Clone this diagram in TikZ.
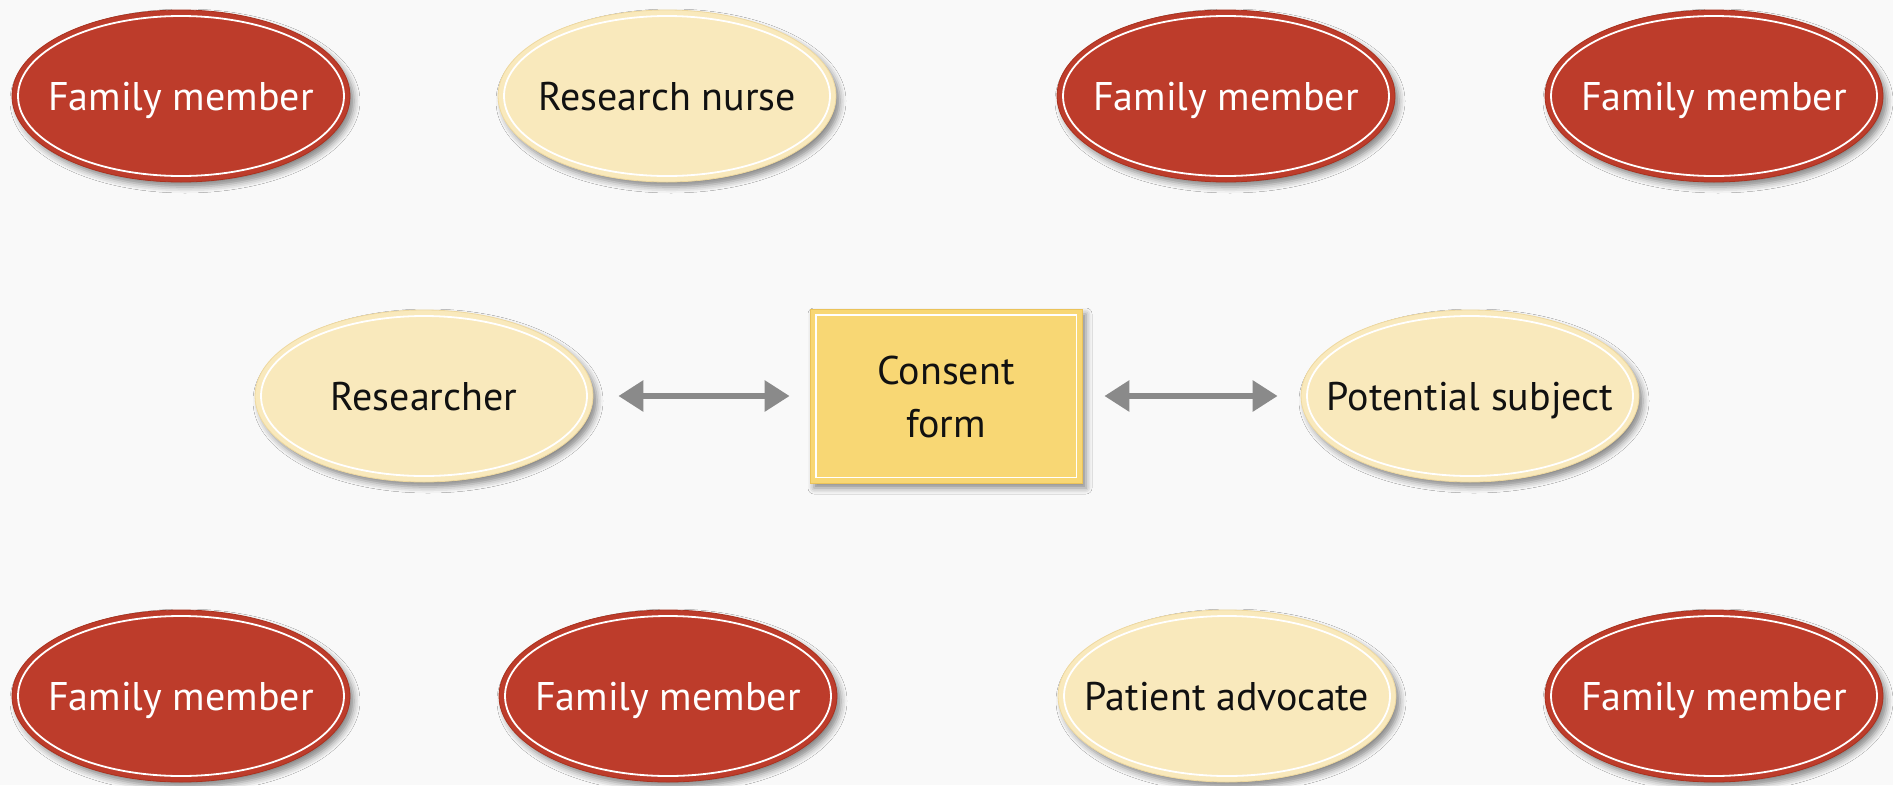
\documentclass[tikz,border=0pt]{standalone}
\usepackage{fontspec}
\setmainfont{PT Sans}
\usetikzlibrary{shapes.geometric,arrows.meta,shadows.blur}
\definecolor{bgc}{HTML}{F9F9F9}
\definecolor{famred}{HTML}{BD3C2B}
\definecolor{famrim}{HTML}{A9321F}
\definecolor{creamc}{HTML}{F9E9BC}
\definecolor{creamrim}{HTML}{EFD9A0}
\definecolor{boxc}{HTML}{F8D774}
\definecolor{boxrim}{HTML}{EBC35A}
\definecolor{arrc}{HTML}{8A8A8A}
\definecolor{txtc}{HTML}{111111}
\tikzset{
  softshadow/.style={blur shadow={shadow xshift=4pt, shadow yshift=-5pt, shadow blur radius=6pt, shadow opacity=45}},
  oval/.style={ellipse, minimum width=338pt, minimum height=172pt, inner sep=0pt, softshadow},
  famoval/.style={oval, fill=famred, draw=famrim, line width=0.8pt},
  creamoval/.style={oval, fill=creamc, draw=creamrim, line width=0.8pt},
  innerline/.style={draw=white, line width=1.8pt},
  lbl/.style={font=\fontsize{40}{53}\selectfont, text height=28pt, text depth=0pt, inner sep=0pt, align=center},
  wlbl/.style={lbl, text=white},
  blbl/.style={lbl, text=txtc},
  formlbl/.style={font=\fontsize{40}{53}\selectfont, inner sep=0pt, align=center, text=txtc},
  formbox/.style={rectangle, minimum width=272pt, minimum height=174pt, inner sep=0pt, fill=boxc, draw=boxrim, line width=0.8pt, softshadow},
  dblarrow/.style={draw=arrc, line width=6pt, {Triangle[length=25pt,width=30pt]}-{Triangle[length=25pt,width=30pt]}},
}
\begin{document}
\begin{tikzpicture}[x=1pt,y=1pt]
  \fill[bgc] (0,0) rectangle (1893,-785);
  \useasboundingbox (0,0) rectangle (1893,-785);

  % top row
  \node[famoval] (f1) at (181,-96) {};
  \node[creamoval] (rn) at (667,-96) {};
  \node[famoval] (f3) at (1226,-96) {};
  \node[famoval] (f4) at (1714,-96) {};
  % middle row
  \node[creamoval] (res) at (424,-396) {};
  \node[formbox] (cf) at (946,-396) {};
  \node[creamoval] (ps) at (1470,-396) {};
  % bottom row
  \node[famoval] (f5) at (181,-696) {};
  \node[famoval] (f6) at (668,-696) {};
  \node[creamoval] (pa) at (1227,-696) {};
  \node[famoval] (f7) at (1714,-696) {};

  % inner white lines
  \foreach \n in {f1,rn,f3,f4,res,ps,f5,f6,pa,f7}
    \draw[innerline] (\n.center) ellipse [x radius=163, y radius=80];
  \draw[innerline] ([xshift=6pt,yshift=6pt]cf.south west) rectangle ([xshift=-6pt,yshift=-6pt]cf.north east);

  % labels
  \node[wlbl] (f1t) at (f1) {Family member};
  \node[blbl] (rnt) at (rn) {Research nurse};
  \node[wlbl] (f3t) at (f3) {Family member};
  \node[wlbl] (f4t) at (f4) {Family member};
  \node[blbl] (rest) at (res) {Researcher};
  \node[formlbl] (cft) at ([yshift=-1pt]cf.center) {Consent\\form};
  \node[blbl] (pst) at (ps) {Potential subject};
  \node[wlbl] (f5t) at (f5) {Family member};
  \node[wlbl] (f6t) at (f6) {Family member};
  \node[blbl] (pat) at (pa) {Patient advocate};
  \node[wlbl] (f7t) at (f7) {Family member};

  % connectors
  \draw[dblarrow, shorten <=25pt, shorten >=20pt] (res) -- (cf);
  \draw[dblarrow, shorten <=22pt, shorten >=23pt] (cf) -- (ps);
\end{tikzpicture}
\end{document}
